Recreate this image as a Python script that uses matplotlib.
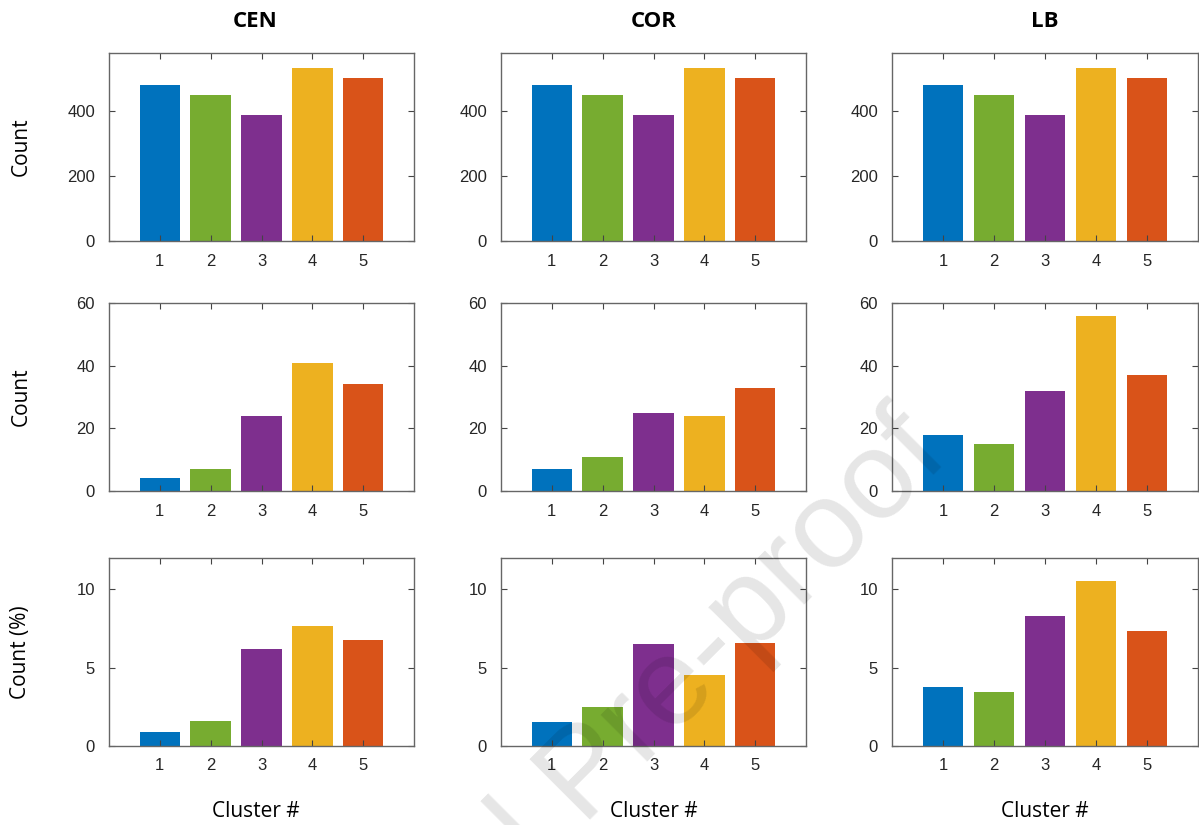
import matplotlib
matplotlib.use("Agg")
import matplotlib.pyplot as plt
import numpy as np

# cluster ids and site names
clusters = [1, 2, 3, 4, 5]
sites = ["CEN", "COR", "LB"]

# row 1: cluster sizes (same for every site)
total_counts = {
    "CEN": [480, 449, 388, 534, 504],
    "COR": [480, 449, 388, 534, 504],
    "LB": [480, 449, 388, 534, 504],
}
# row 2: events per cluster
event_counts = {
    "CEN": [4, 7, 24, 41, 34],
    "COR": [7, 11, 25, 24, 33],
    "LB": [18, 15, 32, 56, 37],
}
# row 3: events as percentage of cluster size
event_pct = {
    "CEN": [0.89, 1.58, 6.22, 7.68, 6.79],
    "COR": [1.52, 2.51, 6.50, 4.54, 6.58],
    "LB": [3.78, 3.42, 8.27, 10.53, 7.36],
}

row_data = [total_counts, event_counts, event_pct]
row_labels = ["Count", "Count", "Count (%)"]
row_ylim = [580, 60, 12]
row_yticks = [[0, 200, 400], [0, 20, 40, 60], [0, 5, 10]]

# matlab default line colours
colors = ["#0072BD", "#77AC30", "#7E2F8E", "#EDB120", "#D95319"]

W, H = 1199, 825
fig = plt.figure(figsize=(W / 100, H / 100), dpi=100)

col_left = [109, 501, 892]
col_w = [305, 305, 306]
row_top = [53, 303, 558]
row_h = 188

tick_font = dict(family="Liberation Sans", size=12)
label_font = dict(family="Open Sans", size=15)

for r in range(3):
    for c, site in enumerate(sites):
        ax = fig.add_axes([col_left[c] / W, 1 - (row_top[r] + row_h) / H,
                           col_w[c] / W, row_h / H])
        ax.bar(clusters, row_data[r][site], width=0.8, color=colors)
        ax.set_xlim(0, 6)
        ax.set_ylim(0, row_ylim[r])
        ax.set_xticks(clusters)
        ax.set_yticks(row_yticks[r])
        ax.tick_params(direction="in", length=4, width=0.8, top=True, right=True,
                       color="#444444", labelcolor="#262626")
        ax.tick_params(axis="x", pad=9)
        ax.tick_params(axis="y", pad=10)
        for lab in ax.get_xticklabels() + ax.get_yticklabels():
            lab.set_fontfamily(tick_font["family"])
            lab.set_fontsize(tick_font["size"])
        for sp in ax.spines.values():
            sp.set_color("#666666")
            sp.set_linewidth(1.0)

        xc = 0.48 if c == 0 else 0.5
        if r == 0:
            ax.set_title(site, x=xc, y=1.17, pad=0, va="center", family="Open Sans",
                         size=16, fontweight="bold")
        if r == 2:
            ax.set_xlabel("Cluster #", **label_font)
            ax.xaxis.set_label_coords(xc, -0.35)
            ax.xaxis.label.set_va("center")
        if c == 0:
            ax.set_ylabel(row_labels[r], **label_font)
            ax.yaxis.set_label_coords(-0.289, 0.5)
            ax.yaxis.label.set_va("center")

# journal watermark
fig.text(0.49, 0.058, "Journal Pre-proof", rotation=45, ha="center", va="center",
         family="Liberation Sans", size=90, color="black", alpha=0.1,
         rotation_mode="anchor")

fig.savefig("out.png", dpi=100)
